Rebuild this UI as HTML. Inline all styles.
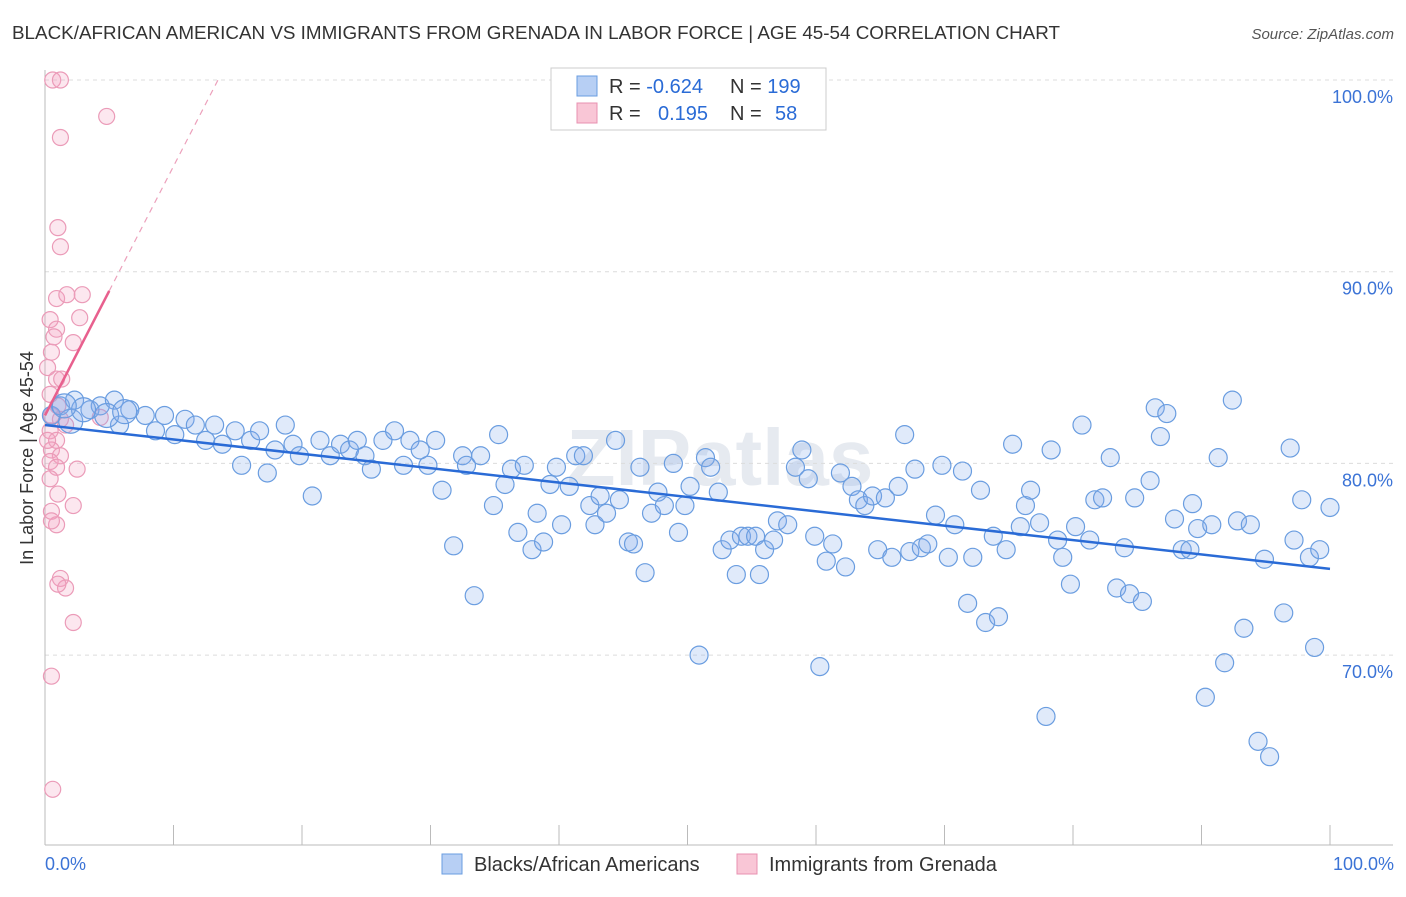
<!DOCTYPE html>
<html><head><meta charset="utf-8"><style>
body{margin:0;background:#fff;font-family:"Liberation Sans",sans-serif;}
</style></head><body>
<svg id="chart" width="1406" height="892" xmlns="http://www.w3.org/2000/svg">
<text x="12" y="39" font-size="18" fill="#333" textLength="1048" lengthAdjust="spacingAndGlyphs">BLACK/AFRICAN AMERICAN VS IMMIGRANTS FROM GRENADA IN LABOR FORCE | AGE 45-54 CORRELATION CHART</text>
<text x="1394" y="39" font-size="15" fill="#555" font-style="italic" text-anchor="end">Source: ZipAtlas.com</text>
<text x="33" y="458" font-size="18" fill="#333" text-anchor="middle" transform="rotate(-90 33 458)">In Labor Force | Age 45-54</text>
<text x="720" y="485" font-size="80" fill="#e6eaf0" text-anchor="middle" font-weight="bold">ZIPatlas</text>
<g id="grid"></g><g id="axes"></g><g id="pink"></g><g id="blue"></g><g id="lines"></g>
<g>
<rect x="551" y="68" width="275" height="62" fill="#fff" stroke="#ccc"/>
<rect x="577" y="76" width="20" height="20" fill="#b7cff4" stroke="#6a9de0"/>
<rect x="577" y="103" width="20" height="20" fill="#f9c6d6" stroke="#e890b0"/>
<text x="609" y="93" font-size="20" fill="#333">R = <tspan fill="#2a6bd6">-0.624</tspan></text>
<text x="730" y="93" font-size="20" fill="#333">N = <tspan fill="#2a6bd6">199</tspan></text>
<text x="609" y="120" font-size="20" fill="#333">R = <tspan fill="#2a6bd6" x="658">0.195</tspan></text>
<text x="730" y="120" font-size="20" fill="#333">N = <tspan fill="#2a6bd6" x="775">58</tspan></text>
</g>
<g>
<rect x="442" y="854" width="20" height="20" fill="#b7cff4" stroke="#6a9de0"/>
<text x="474" y="871" font-size="20" fill="#333">Blacks/African Americans</text>
<rect x="737" y="854" width="20" height="20" fill="#f9c6d6" stroke="#e890b0"/>
<text x="769" y="871" font-size="20" fill="#333">Immigrants from Grenada</text>
</g>
<text x="45" y="870" font-size="18" fill="#3b73d6">0.0%</text>
<text x="1394" y="870" font-size="18" fill="#3b73d6" text-anchor="end">100.0%</text>
</svg>
<script>
const yTicks=[100,90,80,70];
const yTickLabels=["100.0%","90.0%","80.0%","70.0%"];
const blueX=[0.5,1.2,2.3,3.5,4.3,5.4,5.8,6.6,7.8,8.6,9.3,10.1,10.9,11.7,12.5,13.2,13.8,14.8,15.3,16.0,16.7,17.3,17.9,18.7,19.3,19.8,20.8,21.4,22.2,23.0,23.7,24.3,24.9,25.4,26.3,27.2,27.9,28.4,29.2,29.8,30.4,30.9,31.8,32.5,32.8,33.4,33.9,34.9,35.3,35.8,36.3,36.8,37.3,37.9,38.3,38.8,39.3,39.8,40.2,40.8,41.3,41.9,42.4,42.8,43.2,43.7,44.4,44.7,45.4,45.8,46.3,46.7,47.2,47.7,48.2,48.9,49.3,49.8,50.2,50.9,51.4,51.8,52.4,52.7,53.3,53.8,54.2,54.7,55.3,55.6,56.0,56.7,57.0,57.8,58.4,58.9,59.4,59.9,60.3,60.8,61.3,61.9,62.3,62.8,63.3,63.8,64.4,64.8,65.4,65.9,66.4,66.9,67.3,67.7,68.2,68.7,69.3,69.8,70.3,70.8,71.4,71.8,72.2,72.8,73.2,73.8,74.2,74.8,75.3,75.9,76.3,76.7,77.4,77.9,78.3,78.8,79.2,79.8,80.2,80.7,81.3,81.7,82.3,82.9,83.4,84.0,84.4,84.8,85.4,86.0,86.4,86.8,87.3,87.9,88.5,89.1,89.3,89.7,90.3,90.8,91.3,91.8,92.4,92.8,93.3,93.8,94.4,94.9,95.3,96.4,96.9,97.2,97.8,98.4,98.8,99.2,100,2.0,3.0,1.5,4.8,6.2];
const blueY=[82.5,83.0,83.3,82.8,83.0,83.3,82.0,82.8,82.5,81.7,82.5,81.5,82.3,82.0,81.2,82.0,81.0,81.7,79.9,81.2,81.7,79.5,80.7,82.0,81.0,80.4,78.3,81.2,80.4,81.0,80.7,81.2,80.4,79.7,81.2,81.7,79.9,81.2,80.7,79.9,81.2,78.6,75.7,80.4,79.9,73.1,80.4,77.8,81.5,78.9,79.7,76.4,79.9,75.5,77.4,75.9,78.9,79.8,76.8,78.8,80.4,80.4,77.8,76.8,78.3,77.4,81.2,78.1,75.9,75.8,79.8,74.3,77.4,78.5,77.8,80.0,76.4,77.8,78.8,70.0,80.3,79.8,78.5,75.5,76.0,74.2,76.2,76.2,76.2,74.2,75.5,76.0,77.0,76.8,79.8,80.7,79.2,76.2,69.4,74.9,75.8,79.5,74.6,78.8,78.1,77.8,78.3,75.5,78.2,75.1,78.8,81.5,75.4,79.7,75.6,75.8,77.3,79.9,75.1,76.8,79.6,72.7,75.1,78.6,71.7,76.2,72.0,75.5,81.0,76.7,77.8,78.6,76.9,66.8,80.7,76.0,75.1,73.7,76.7,82.0,76.0,78.1,78.2,80.3,73.5,75.6,73.2,78.2,72.8,79.1,82.9,81.4,82.6,77.1,75.5,75.5,77.9,76.6,67.8,76.8,80.3,69.6,83.3,77.0,71.4,76.8,65.5,75.0,64.7,72.2,80.8,76.0,78.1,75.1,70.4,75.5,77.7,82.2,82.8,83.0,82.5,82.7];
const pinkX=[0.6,1.2,4.8,1.2,1.0,1.2,0.9,1.7,2.9,0.4,2.7,0.9,0.7,2.2,0.5,0.2,0.9,1.3,0.4,1.0,0.5,1.2,0.4,0.9,0.5,1.2,0.4,2.5,0.9,0.4,1.0,2.2,0.5,0.9,0.5,1.2,1.6,1.0,2.2,0.5,0.6,4.3,1.6,0.2];
const pinkY=[100,100,98.1,97.0,92.3,91.3,88.6,88.8,88.8,87.5,87.6,87.0,86.6,86.3,85.8,85.0,84.4,84.4,83.6,83.0,82.5,82.3,81.7,81.2,80.7,80.4,80.1,79.7,79.8,79.2,78.4,77.8,77.5,76.8,77.0,74.0,73.5,73.7,71.7,68.9,63.0,82.4,82.0,81.2];
const blueTrend=[82.0,74.5];
const pinkTrend=[82.5,1.3];
const NS="http://www.w3.org/2000/svg";
const X=v=>45+v*12.85, Y=v=>80+(100-v)*19.17;
function mk(tag,attrs,parent){const e=document.createElementNS(NS,tag);for(const k in attrs)e.setAttribute(k,attrs[k]);document.getElementById(parent).appendChild(e);return e;}
yTicks.forEach((t,i)=>{
 const l=mk('line',{x1:45,x2:1393,y1:Y(t),y2:Y(t),stroke:'#dcdcdc','stroke-dasharray':'4,4'},'grid');
 
 
 const tx=mk('text',{x:1393,y:Y(t)+23,'font-size':18,fill:'#3b73d6','text-anchor':'end'},'grid');
 tx.textContent=yTickLabels[i];
 
 
});
let a=mk('line',{x1:45,x2:1393,y1:845,y2:845,stroke:'#bbb'},'axes');


a=mk('line',{x1:45,x2:45,y1:70,y2:845,stroke:'#bbb'},'axes');


for(let i=0;i<=10;i++){const t=mk('line',{x1:X(i*10),x2:X(i*10),y1:825,y2:845,stroke:'#bbb'},'axes');
 
 }
pinkX.forEach((x,i)=>{const c=mk('circle',{cx:X(x),cy:Y(pinkY[i]),r:8,fill:'rgba(243,160,190,0.25)',stroke:'#eb9bb8','stroke-width':1.2},'pink');
 
 });
blueX.forEach((x,i)=>{const c=mk('circle',{cx:X(x),cy:Y(blueY[i]),r:i>=blueX.length-5?12:9,fill:'rgba(130,170,235,0.25)',stroke:'#6a9de0','stroke-width':1.2},'blue');
 
 });
let ln=mk('line',{x1:X(0),y1:Y(blueTrend[0]),x2:X(100),y2:Y(blueTrend[1]),stroke:'#2a6bd6','stroke-width':2.5},'lines');


const xe=(100-pinkTrend[0])/pinkTrend[1];
ln=mk('line',{x1:X(0),y1:Y(pinkTrend[0]),x2:X(5),y2:Y(pinkTrend[0]+5*pinkTrend[1]),stroke:'#e8608e','stroke-width':2.5},'lines');


ln=mk('line',{x1:X(5),y1:Y(pinkTrend[0]+5*pinkTrend[1]),x2:X(xe),y2:Y(100),stroke:'#eca0bb','stroke-width':1.2,'stroke-dasharray':'6,5'},'lines');


</script>
</body></html>
